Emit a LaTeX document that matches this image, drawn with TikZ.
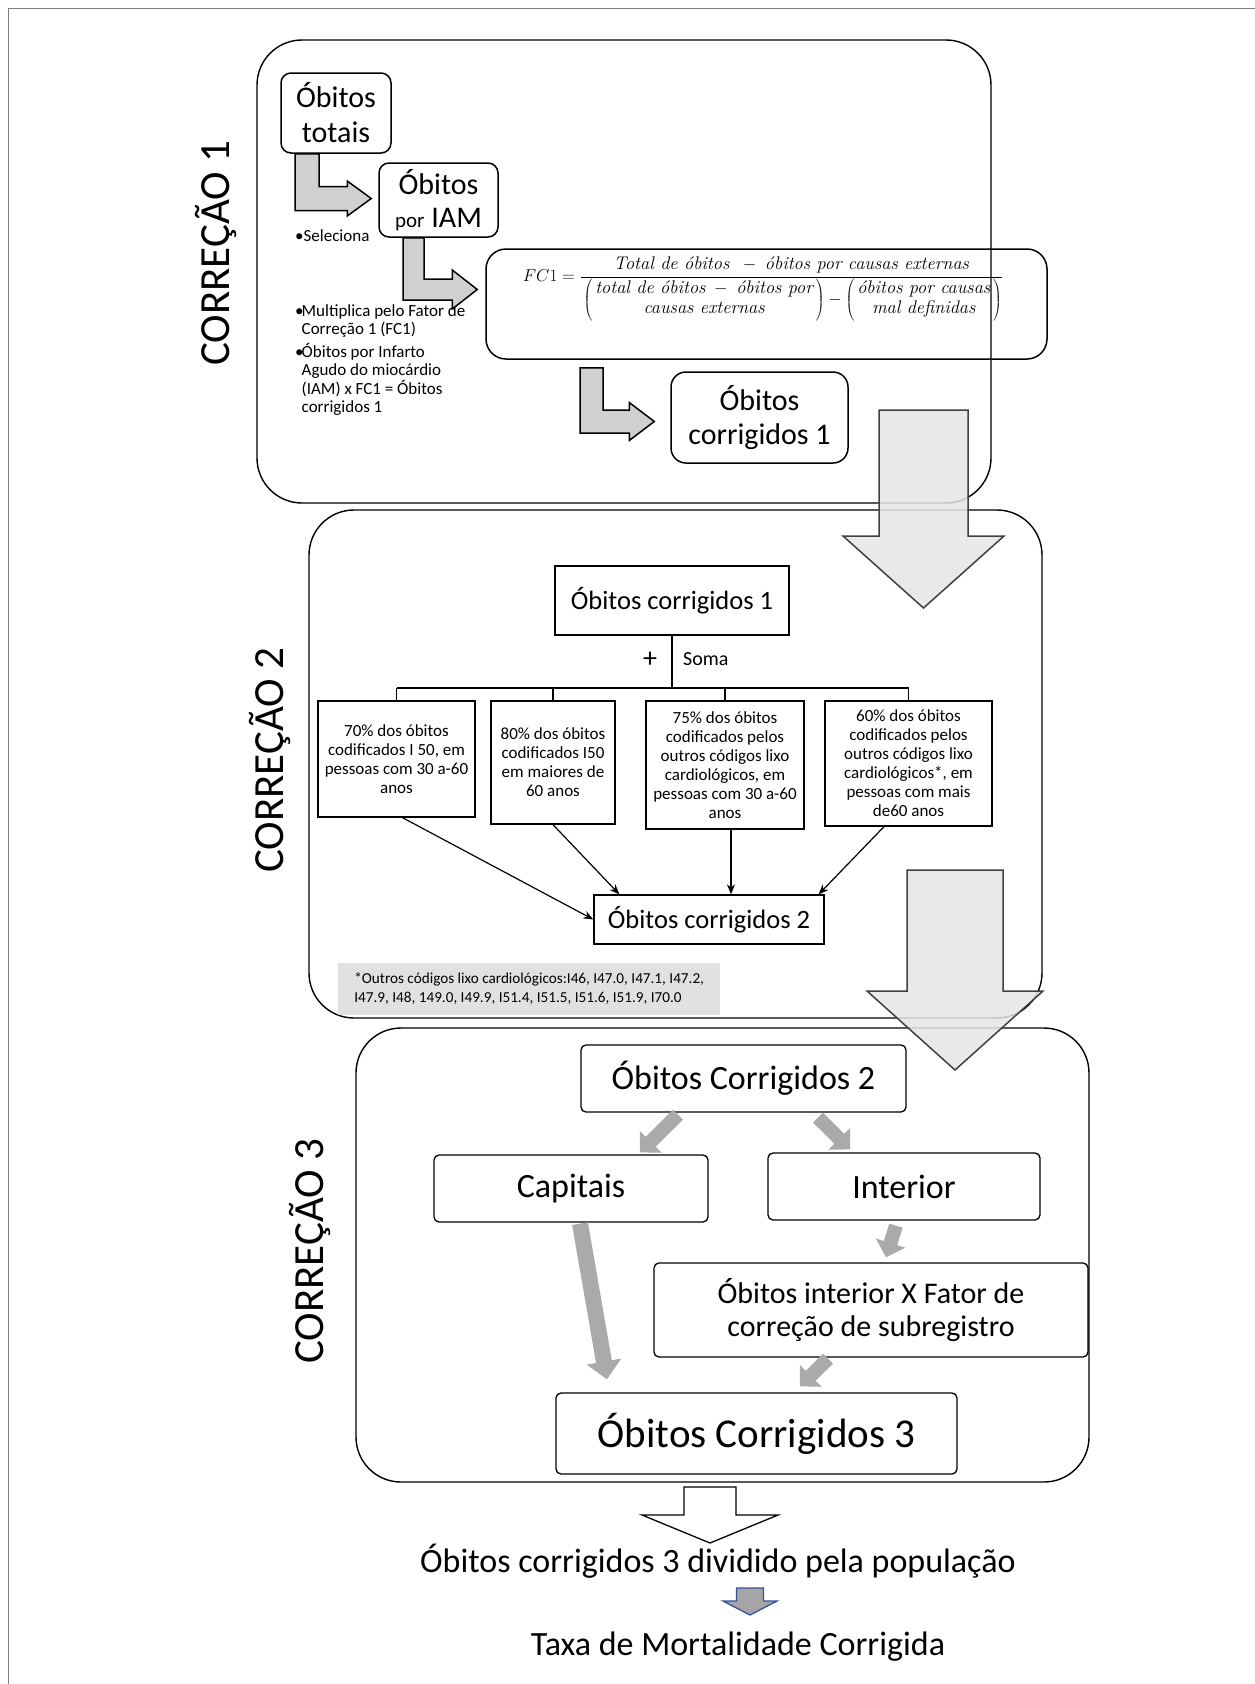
\documentclass[tikz,border=0pt]{standalone}
\usepackage{fontspec}
\setsansfont{Carlito}
\renewcommand{\familydefault}{\sfdefault}
\usetikzlibrary{arrows.meta,calc}

\definecolor{bentgray}{RGB}{208,208,208}
\definecolor{biggray}{RGB}{229,229,229}
\definecolor{bigedge}{RGB}{64,64,64}
\definecolor{thickgray}{RGB}{170,170,172}
\definecolor{notegray}{RGB}{225,225,225}
\definecolor{framegray}{RGB}{128,128,128}
\definecolor{smallblue}{RGB}{47,85,151}
\definecolor{smallfill}{RGB}{165,165,165}

\newcommand{\fs}[2]{\fontsize{#1}{#2}\selectfont}
\newcommand{\fcit}{\rmfamily\itshape}

% bent arrow: shaft under node #1, tip at the west side of node #2
\newcommand{\bendarrow}[7]{%
  \draw[bentarr] let \p1=([#3]#1.south), \p2=([#7]#2.west) in
    (\x1,\y1) -- (\x1+#4,\y1) -- (\x1+#4,\y2+#4/2) -- (\x2-#5,\y2+#4/2)
    -- (\x2-#5,\y2+#6) -- (\p2) -- (\x2-#5,\y2-#6) -- (\x2-#5,\y2-#4/2)
    -- (\x1,\y2-#4/2) -- cycle;}

% block arrow pointing down: style, centre x, top, shaft half, head y, head half, tip y
\newcommand{\blockdown}[7]{%
  \draw[#1] (#2-#4,#3) -- (#2+#4,#3) -- (#2+#4,#5) -- (#2+#6,#5) -- (#2,#7)
    -- (#2-#6,#5) -- (#2-#4,#5) -- cycle;}

\begin{document}
\begin{tikzpicture}[x=1pt,y=-1pt,
    panel/.style={draw, line width=1.4pt, rounded corners=45pt},
    rbox/.style={draw, line width=1.5pt, rounded corners=#1, align=center, inner sep=0pt},
    sbox/.style={draw, line width=1.3pt, align=center, inner sep=0pt},
    gbox/.style={draw, line width=1.3pt, rounded corners=5pt, align=center, inner sep=0pt},
    sidelabel/.style={rotate=90, anchor=base, inner sep=0pt, font=\fs{43}{43}},
    bentarr/.style={draw=black, line width=1.5pt, fill=bentgray},
    bigarr/.style={draw=bigedge, line width=1.5pt, fill=biggray, fill opacity=0.85},
    whitearr/.style={draw=black, line width=1.3pt, fill=white},
    bluearr/.style={draw=smallblue, line width=1.3pt, fill=smallfill},
    tree/.style={line width=1.3pt},
    conn/.style={line width=1.2pt, -{Stealth[length=10pt,width=8pt]}},
    fatarr/.style={draw=thickgray, line width=14pt, -{Triangle[width=30pt,length=15pt]}},
    longarr/.style={draw=thickgray, line width=16pt, -{Triangle[width=34pt,length=18pt]}}]
    \useasboundingbox (0,0) rectangle (1255,1684);
    \clip (0,0) rectangle (1255,1684);
    % outer frame
    \draw[framegray, line width=1pt] (8,1700) -- (8,8) -- (1270,8);

    % ---------------- Correcao 1
    \draw[panel] (257,40) rectangle (991,503);
    \node[sidelabel] (lab1) at (229,253) {CORREÇÃO 1};
    \node[rbox=10pt, minimum width=110pt, minimum height=80pt, font=\fs{30}{35}] (totais) at (336,113) {Óbitos\\totais};
    \node[rbox=10pt, minimum width=119pt, minimum height=74pt, font=\fs{30}{33}] (iam) at (438.5,200) {Óbitos\\{\fs{21}{33}por} IAM};
    \node[rbox=20pt, minimum width=561pt, minimum height=110pt] (fc) at (766.5,304) {};
    \node[font=\fs{18.3}{21}] (fcform) at (763,289) {$FC1 = \displaystyle\frac{\mbox{\fcit Total de óbitos}\;\;-\;\mbox{\fcit óbitos por causas externas}\rule[-5pt]{0pt}{5pt}}
      {\rule{0pt}{16pt}\left(\,\begin{array}{@{}c@{}}\mbox{\fcit total de óbitos}\;-\;\mbox{\fcit óbitos por}\\[-1pt] \mbox{\fcit causas externas}\end{array}\,\right)
       - \left(\,\begin{array}{@{}c@{}}\mbox{\fcit óbitos por causas}\\[-1pt] \mbox{\fcit mal definidas}\end{array}\,\right)}$};
    \node[rbox=15pt, minimum width=177pt, minimum height=91pt, font=\fs{30}{34}] (cor1) at (759.5,417.5) {Óbitos\\corrigidos 1};
    \node[anchor=base west, inner sep=0pt, font=\fs{17}{18}] (sel) at (295,241) {•Seleciona};
    \node[anchor=north west, align=left, inner sep=0pt, font=\fs{17}{18.5}] (mult) at (295,304)
      {\makebox[6.5pt][l]{•}Multiplica pelo Fator de\\
       \hspace*{6.5pt}Correção 1 (FC1)\\[4pt]
       \makebox[6.5pt][l]{•}Óbitos por Infarto\\
       \hspace*{6.5pt}Agudo do miocárdio\\
       \hspace*{6.5pt}(IAM) x FC1 = Óbitos\\
       \hspace*{6.5pt}corrigidos 1};
    \bendarrow{totais}{iam}{xshift=-41pt}{24pt}{24pt}{17.5pt}{xshift=-7pt,yshift=1.5pt}
    \bendarrow{iam}{fc}{xshift=-35.5pt}{21pt}{25pt}{19.5pt}{xshift=-8pt,yshift=14.5pt}
    \bendarrow{fc}{cor1}{xshift=-186.5pt,yshift=-8pt}{23pt}{25pt}{19pt}{xshift=-16pt,yshift=-4pt}

    % ---------------- Correcao 2
    \draw[panel] (309,510) rectangle (1042,1018);
    \node[sidelabel] (lab2) at (283,760) {CORREÇÃO 2};
    \node[sbox, minimum width=234pt, minimum height=69pt, font=\fs{26.5}{30}] (c1b) at (672,600.5) {Óbitos corrigidos 1};
    \node[font=\fs{28}{28}] (plus) at (650,660) {+};
    \node[anchor=base west, inner sep=0pt, font=\fs{20}{20}] (soma) at (683,665) {Soma};
    \coordinate (bus) at (0,688);
    \node[sbox, minimum width=157pt, minimum height=116pt, font=\fs{17}{19}] (bA) at (396.5,759)
      {70\% dos óbitos\\codificados I 50, em\\pessoas com 30 a-60\\anos};
    \node[sbox, minimum width=124pt, minimum height=123pt, font=\fs{17}{19}] (bB) at (553,762.5)
      {80\% dos óbitos\\codificados I50\\em maiores de\\60 anos};
    \node[sbox, minimum width=158pt, minimum height=128pt, font=\fs{17}{19}] (bC) at (725,765)
      {75\% dos óbitos\\codificados pelos\\outros códigos lixo\\cardiológicos, em\\pessoas com 30 a-60\\anos};
    \node[sbox, minimum width=167pt, minimum height=125pt, font=\fs{17}{19}] (bD) at (908.5,763.5)
      {60\% dos óbitos\\codificados pelos\\outros códigos lixo\\cardiológicos*, em\\pessoas com mais\\de60 anos};
    \node[sbox, minimum width=230pt, minimum height=49pt, font=\fs{26.5}{30}] (c2b) at (709,919.5) {Óbitos corrigidos 2};
    \draw[tree] (c1b.south) -- (c1b.south |- bus);
    \draw[tree] (bA.north |- bus) -- (bD.north |- bus);
    \foreach \b in {bA,bB,bC,bD}
      \draw[tree] (\b.north |- bus) -- (\b.north);
    \draw[conn] ([xshift=6pt]bA.south) -- (c2b.west);
    \draw[conn] (bB.south) -- ([xshift=26pt]c2b.north west);
    \draw[conn] ([xshift=6pt]bC.south) -- ([xshift=6pt]bC.south |- c2b.north);
    \draw[conn] ([xshift=-24.5pt]bD.south) -- ([xshift=-6pt]c2b.north east);
    \node[fill=notegray, minimum width=382pt, minimum height=52pt, inner xsep=12pt, inner ysep=0pt,
      align=left, font=\fs{15.2}{19}, anchor=west] (note) at (338,989)
      {*Outros códigos lixo cardiológicos:I46, I47.0, I47.1, I47.2,\\
       I47.9, I48, 149.0, I49.9, I51.4, I51.5, I51.6, I51.9, I70.0};

    % ---------------- Correcao 3
    \draw[panel] (356,1028) rectangle (1089,1482);
    \node[sidelabel] (lab3) at (323,1251) {CORREÇÃO 3};
    \node[gbox, minimum width=325pt, minimum height=67pt, font=\fs{34}{38}] (c2c) at (743.5,1078.5) {Óbitos Corrigidos 2};
    \node[gbox, minimum width=274pt, minimum height=67pt, font=\fs{34}{38}] (cap) at (571,1188.5) {Capitais};
    \node[gbox, minimum width=272pt, minimum height=67pt, font=\fs{34}{38}] (intr) at (904,1186.5) {Interior};
    \node[gbox, minimum width=434pt, minimum height=94pt, font=\fs{30}{33}] (fat) at (871,1310)
      {Óbitos interior X Fator de\\correção de subregistro};
    \node[gbox, minimum width=401pt, minimum height=81pt, font=\fs{41}{45}] (c3c) at (756.5,1433.5) {Óbitos Corrigidos 3};
    \draw[fatarr] ([xshift=-65.5pt,yshift=-2pt]c2c.south) -- ([xshift=69pt,yshift=2pt]cap.north);
    \draw[fatarr] ([xshift=74.5pt,yshift=-5pt]c2c.south) -- ([xshift=-54pt,yshift=3pt]intr.north);
    \draw[fatarr] ([xshift=-8pt,yshift=-5pt]intr.south) -- ([xshift=15pt,yshift=5pt]fat.north);
    \draw[longarr] ([xshift=9pt,yshift=-1pt]cap.south) -- ([xshift=-149.5pt,yshift=13pt]c3c.north);
    \draw[fatarr] ([xshift=-43pt,yshift=-1pt]fat.south) -- ([xshift=43.5pt,yshift=6pt]c3c.north);

    % big arrows between the panels
    \blockdown{bigarr}{923.5}{410}{44.5}{536}{80.5}{608}
    \blockdown{bigarr}{955}{870}{48}{991}{88}{1070}

    % ---------------- result
    \blockdown{whitearr}{710}{1487}{26}{1515}{68}{1543}
    \node[anchor=base, font=\fs{34}{38}] (div) at (718,1572) {Óbitos corrigidos 3 dividido pela população};
    \blockdown{bluearr}{750}{1588}{13.5}{1601}{27}{1615}
    \node[anchor=base, font=\fs{34}{38}] (taxa) at (738,1655) {Taxa de Mortalidade Corrigida};
\end{tikzpicture}
\end{document}
